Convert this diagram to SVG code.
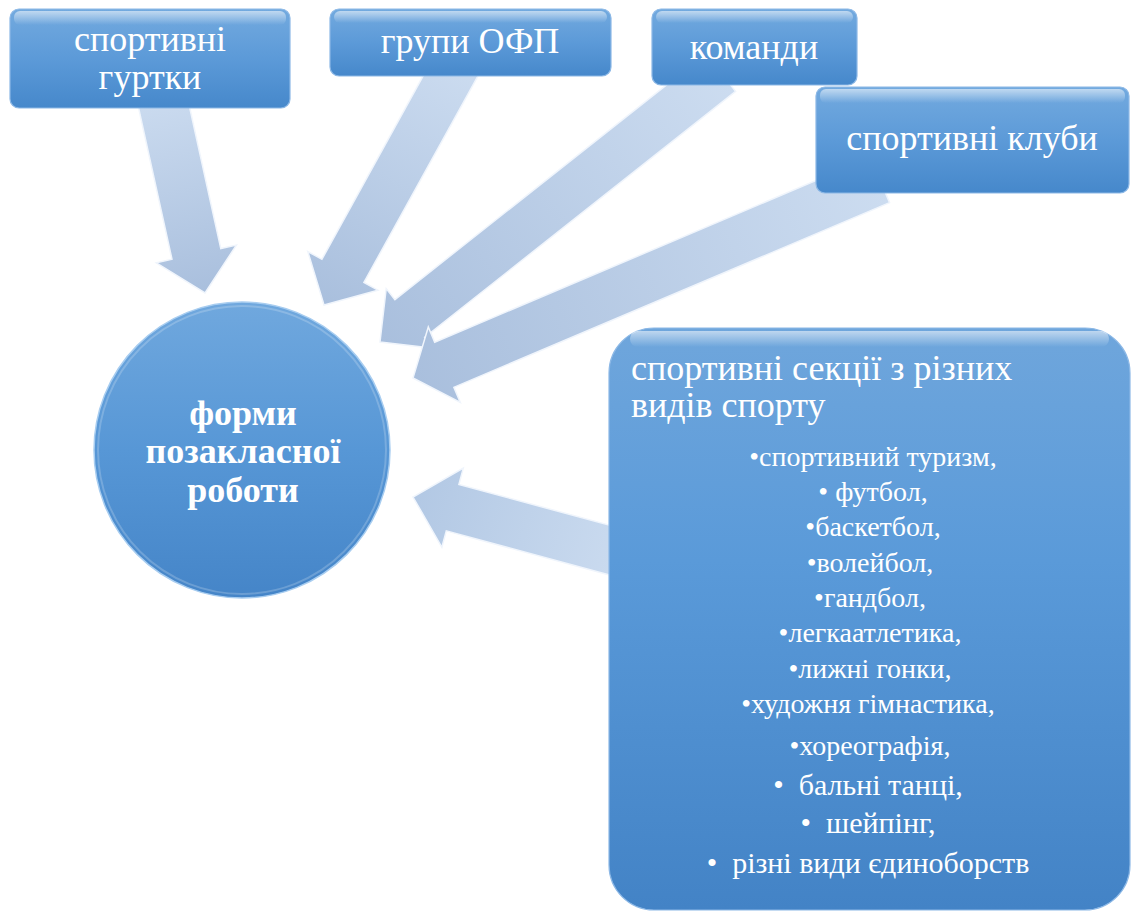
<svg xmlns="http://www.w3.org/2000/svg" width="1131" height="912" viewBox="0 0 1131 912">
<defs>
<linearGradient id="boxG" x1="0" y1="0" x2="0" y2="1">
<stop offset="0" stop-color="#73aadf"/>
<stop offset="0.5" stop-color="#5c9ad8"/>
<stop offset="1" stop-color="#4688cb"/>
</linearGradient>
<linearGradient id="circG" x1="0" y1="0" x2="0" y2="1">
<stop offset="0" stop-color="#70a8de"/>
<stop offset="0.5" stop-color="#5797d6"/>
<stop offset="1" stop-color="#4585c8"/>
</linearGradient>
<linearGradient id="bigG" x1="0" y1="0" x2="0" y2="1">
<stop offset="0" stop-color="#6fa6dc"/>
<stop offset="0.4" stop-color="#5a9ad9"/>
<stop offset="1" stop-color="#4383c6"/>
</linearGradient>
<linearGradient id="hl" x1="0" y1="0" x2="0" y2="1">
<stop offset="0" stop-color="#ffffff" stop-opacity="0.55"/>
<stop offset="1" stop-color="#ffffff" stop-opacity="0"/>
</linearGradient>
<linearGradient id="a1" gradientUnits="userSpaceOnUse" x1="160" y1="89" x2="205" y2="293"><stop offset="0" stop-color="#ccdcf0"/><stop offset="1" stop-color="#a9bfdd"/></linearGradient>
<linearGradient id="a2" gradientUnits="userSpaceOnUse" x1="460" y1="58" x2="324" y2="305"><stop offset="0" stop-color="#ccdcf0"/><stop offset="1" stop-color="#a9bfdd"/></linearGradient>
<linearGradient id="a3" gradientUnits="userSpaceOnUse" x1="720" y1="72" x2="380" y2="342"><stop offset="0" stop-color="#ccdcf0"/><stop offset="1" stop-color="#a9bfdd"/></linearGradient>
<linearGradient id="a4" gradientUnits="userSpaceOnUse" x1="880" y1="180" x2="413" y2="378"><stop offset="0" stop-color="#ccdcf0"/><stop offset="1" stop-color="#a9bfdd"/></linearGradient>
<linearGradient id="a5" gradientUnits="userSpaceOnUse" x1="638" y1="558" x2="413" y2="497"><stop offset="0" stop-color="#ccdcf0"/><stop offset="1" stop-color="#b2c8e4"/></linearGradient>
</defs>
<style>
.box{fill:url(#boxG);stroke:#8cb8e6;stroke-width:1.2}
.arrow{stroke:#f0f5fc;stroke-width:1.5;stroke-linejoin:miter}
.t{font-family:"Liberation Serif","Times New Roman",serif;fill:#ffffff;text-anchor:middle}
.b36{font-size:36px}
.c{font-size:36px;font-weight:bold}
.l{font-size:28px}
.l2{font-size:30px}
</style>
<g id="connectors">
<polygon class="arrow" fill="url(#a1)" points="135.6,94.4 172.0,259.3 156.3,262.8 205,293 236.4,245.1 220.8,248.6 184.4,83.6"/>
<polygon class="arrow" fill="url(#a2)" points="439.2,46.9 321.9,259.3 307.8,251.5 324,305 377.9,290.2 363.9,282.5 481.2,70.1"/>
<polygon class="arrow" fill="url(#a3)" points="705.8,53.8 394.9,299.6 386.2,288.6 380,342 433.4,348.2 424.7,337.3 735.6,91.4"/>
<polygon class="arrow" fill="url(#a4)" points="870.4,157.4 434.7,342.2 428.3,327.0 413,378 460.3,402.5 453.9,387.3 889.6,202.6"/>
<polygon class="arrow" fill="url(#a5)" points="644.3,534.6 458.9,484.5 463.3,468.1 413,497 441.9,547.3 446.3,530.9 631.7,581"/>
</g>
<g id="node-gurtky">
<rect class="box" x="10" y="9" width="280" height="99" rx="9"/>
<rect x="14" y="11" width="272" height="14" rx="6" fill="url(#hl)"/>
<text class="t b36" x="150" y="51">спортивні</text>
<text class="t b36" x="150" y="89">гуртки</text>
</g>
<g id="node-ofp">
<rect class="box" x="330" y="9" width="281" height="67" rx="9"/>
<rect x="334" y="11" width="273" height="12" rx="6" fill="url(#hl)"/>
<text class="t b36" x="470" y="53">групи ОФП</text>
</g>
<g id="node-komandy">
<rect class="box" x="652" y="9" width="205" height="76" rx="9"/>
<rect x="656" y="11" width="197" height="12" rx="6" fill="url(#hl)"/>
<text class="t b36" x="754" y="59">команди</text>
</g>
<g id="node-kluby">
<rect class="box" x="816" y="87" width="313" height="106" rx="9"/>
<rect x="820" y="89" width="305" height="14" rx="6" fill="url(#hl)"/>
<text class="t b36" x="972" y="150">спортивні клуби</text>
</g>
<g id="node-center">
<circle cx="242" cy="450" r="148" fill="url(#circG)" stroke="#a8cdf0" stroke-width="1.5"/>
<circle cx="242" cy="450" r="144" fill="none" stroke="#ffffff" stroke-opacity="0.2" stroke-width="2"/>
<text class="t c" x="243" y="425">форми</text>
<text class="t c" x="243" y="463">позакласної</text>
<text class="t c" x="243" y="502">роботи</text>
</g>
<g id="node-sekcii">
<rect x="609" y="328" width="521" height="582" rx="45" fill="url(#bigG)" stroke="#8cb8e6" stroke-width="1.2"/>
<rect x="630" y="331" width="479" height="16" rx="8" fill="url(#hl)"/>
<text class="t b36" x="631" y="380" style="text-anchor:start">спортивні секції з різних</text>
<text class="t b36" x="631" y="417" style="text-anchor:start">видів спорту</text>
<text class="t l" x="873" y="466">•спортивний туризм,</text>
<text class="t l" x="873" y="501" xml:space="preserve">• футбол,</text>
<text class="t l" x="873" y="536">•баскетбол,</text>
<text class="t l" x="870" y="572">•волейбол,</text>
<text class="t l" x="870" y="607">•гандбол,</text>
<text class="t l" x="870" y="642">•легкаатлетика,</text>
<text class="t l" x="870" y="678">•лижні гонки,</text>
<text class="t l" x="868" y="713">•художня гімнастика,</text>
<text class="t l" x="870" y="755">•хореографія,</text>
<text class="t l2" x="868" y="795" xml:space="preserve">•  бальні танці,</text>
<text class="t l2" x="868" y="833" xml:space="preserve">•  шейпінг,</text>
<text class="t l2" x="868" y="873" xml:space="preserve">•  різні види єдиноборств</text>
</g>
</svg>
